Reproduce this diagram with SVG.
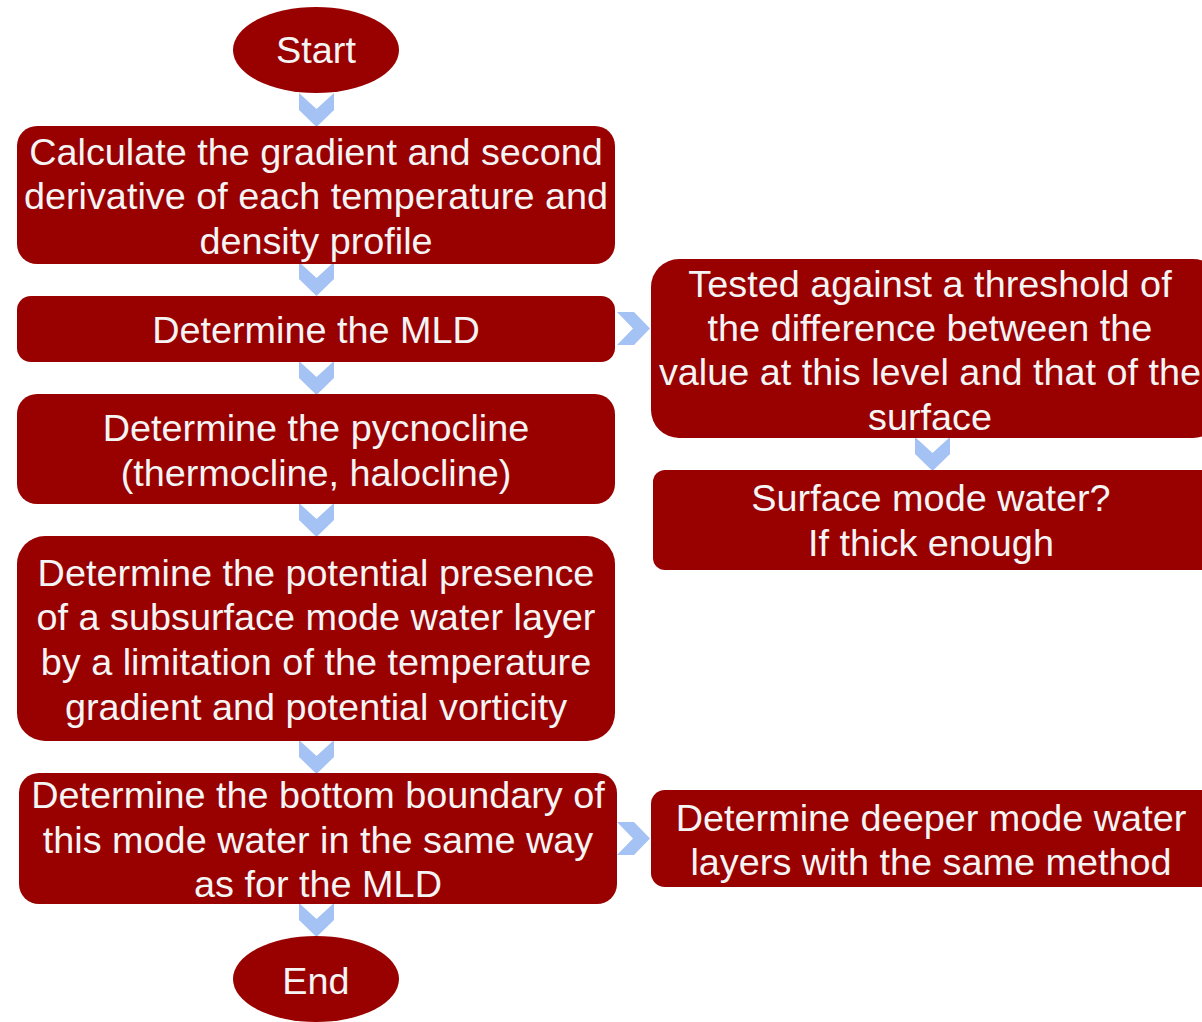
<svg xmlns="http://www.w3.org/2000/svg" width="1202" height="1022" viewBox="0 0 1202 1022">
<defs>
<style>
.n{fill:#990000}
.t{fill:#f4f4f4;font-family:"Liberation Sans",Arial,Helvetica,sans-serif;font-size:37.8px;text-anchor:middle}
.c{fill:#a4c2f4}
</style>
<path id="dn" d="M0,0 L17.5,16 L35,0 L35,17 L17.5,34 L0,17 Z"/>
<path id="rt" d="M0,0 L16,16.5 L0,33 L17,33 L33,16.5 L17,0 Z"/>
</defs>
<rect width="1202" height="1022" fill="#ffffff"/>
<g id="connectors" class="c">
<use href="#dn" x="299" y="93"/>
<use href="#dn" x="299" y="262"/>
<use href="#dn" x="299" y="361"/>
<use href="#dn" x="299" y="503"/>
<use href="#dn" x="299" y="740"/>
<use href="#dn" x="299" y="903"/>
<use href="#dn" x="915" y="437"/>
<use href="#rt" x="617" y="312"/>
<use href="#rt" x="617" y="822"/>
</g>
<g id="start"><ellipse class="n" cx="316" cy="50" rx="83" ry="43"/><text class="t" x="316" y="63">Start</text></g>
<g id="calc"><rect class="n" x="17" y="126" width="598" height="138" rx="20"/>
<text class="t" x="316" y="165">Calculate the gradient and second</text>
<text class="t" x="316" y="209">derivative of each temperature and</text>
<text class="t" x="316" y="254">density profile</text></g>
<g id="mld"><rect class="n" x="17" y="296" width="598" height="66" rx="14"/>
<text class="t" x="316" y="343">Determine the MLD</text></g>
<g id="pycno"><rect class="n" x="17" y="394" width="598" height="110" rx="20"/>
<text class="t" x="316" y="441">Determine the pycnocline</text>
<text class="t" x="316" y="486">(thermocline, halocline)</text></g>
<g id="presence"><rect class="n" x="17" y="536" width="598" height="205" rx="28"/>
<text class="t" x="316" y="586">Determine the potential presence</text>
<text class="t" x="316" y="630">of a subsurface mode water layer</text>
<text class="t" x="316" y="675">by a limitation of the temperature</text>
<text class="t" x="316" y="720">gradient and potential vorticity</text></g>
<g id="bottom"><rect class="n" x="19" y="773" width="598" height="131" rx="20"/>
<text class="t" x="318" y="808">Determine the bottom boundary of</text>
<text class="t" x="318" y="853">this mode water in the same way</text>
<text class="t" x="318" y="897">as for the MLD</text></g>
<g id="end"><ellipse class="n" cx="316" cy="979" rx="83" ry="43"/><text class="t" x="316" y="994">End</text></g>
<g id="tested"><rect class="n" x="651" y="259" width="570" height="179" rx="28"/>
<text class="t" x="930" y="297">Tested against a threshold of</text>
<text class="t" x="930" y="341">the difference between the</text>
<text class="t" x="930" y="385">value at this level and that of the</text>
<text class="t" x="930" y="430">surface</text></g>
<g id="surface"><rect class="n" x="653" y="470" width="570" height="100" rx="12"/>
<text class="t" x="931" y="511">Surface mode water?</text>
<text class="t" x="931" y="556">If thick enough</text></g>
<g id="deeper"><rect class="n" x="651" y="790" width="570" height="97" rx="14"/>
<text class="t" x="931" y="831">Determine deeper mode water</text>
<text class="t" x="931" y="875">layers with the same method</text></g>
</svg>
